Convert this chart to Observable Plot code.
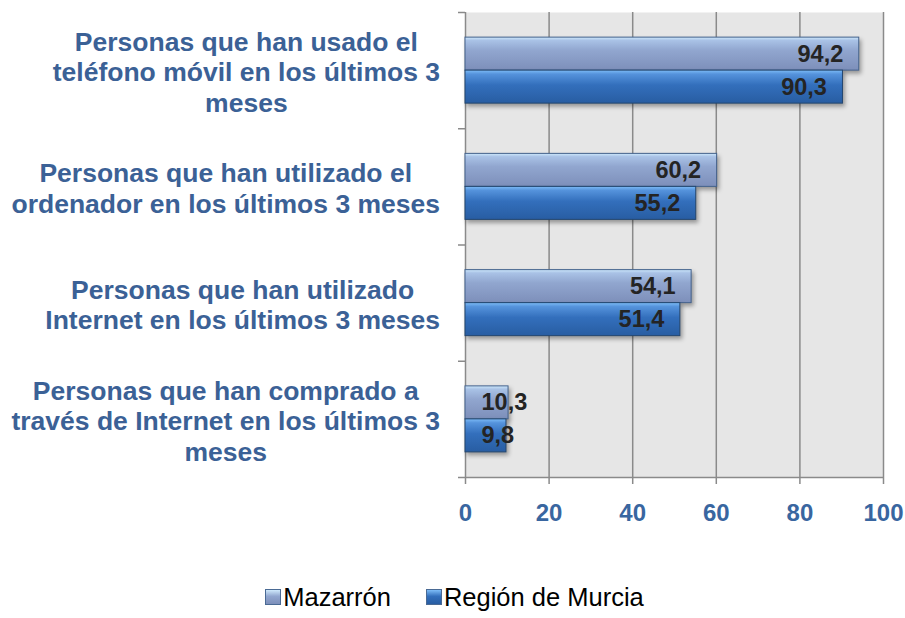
<!DOCTYPE html>
<html><head><meta charset="utf-8">
<script src="https://cdn.jsdelivr.net/npm/d3@7"></script>
<script src="https://cdn.jsdelivr.net/npm/@observablehq/plot@0.6"></script>
<style>
body{margin:0;background:#fff;font-family:"Liberation Sans",Arial,sans-serif;}
#chart{position:relative;width:905px;height:618px;overflow:hidden;}
g[aria-label="bar"] rect{filter:drop-shadow(2px 3px 2px rgba(0,0,0,0.35));}
#legend{position:absolute;top:582px;left:0;width:905px;display:flex;justify-content:center;align-items:center;font-size:25.5px;color:#000;padding-left:4px;box-sizing:border-box;line-height:30px;}
#legend .item{display:flex;align-items:center;margin:0 17.5px;}
#legend .sw{display:inline-block;width:14px;height:14px;margin-right:2px;border:1px solid #4a6a94;}
</style></head>
<body>
<div id="chart"><div id="legend"></div></div>
<script>
const categories = [
  "Personas que han usado el teléfono móvil en los últimos 3 meses",
  "Personas que han utilizado el ordenador en los últimos 3 meses",
  "Personas que han utilizado Internet en los últimos 3 meses",
  "Personas que han comprado a través de Internet en los últimos 3 meses"
];
const categoryLabels = [
  "Personas que han usado el\nteléfono móvil en los últimos 3\nmeses",
  "Personas que han utilizado el\nordenador en los últimos 3 meses",
  "Personas que han utilizado\nInternet en los últimos 3 meses",
  "Personas que han comprado a\ntravés de Internet en los últimos 3\nmeses"
];
const series = ["Mazarrón", "Región de Murcia"];
const mazarron = [94.2, 60.2, 54.1, 10.3];
const murcia = [90.3, 55.2, 51.4, 9.8];
const xTicks = [0, 20, 40, 60, 80, 100];

const rowsM = categories.map((c, i) => ({cat: c, value: mazarron[i], series: series[0]}));
const rowsR = categories.map((c, i) => ({cat: c, value: murcia[i], series: series[1]}));
const labelRows = categories.map((c, i) => ({cat: c, label: categoryLabels[i]}));
const fmt = v => v.toFixed(1).replace(".", ",");

const W = 905, H = 560, mT = 12, mB = 83, mL = 465, mR = 22;
const band = (H - mT - mB) / categories.length;
const half = band / 2;
const barH = 33;
const labelGap = 25; // gap between the widest label line and the axis

const gridColor = "#8a8a8a";
const catColor = "#3b6196";
const tickColor = "#3966a0";
const valFont = {fontFamily: "'Liberation Sans', Arial, sans-serif", fontWeight: "bold", fontSize: 23.5, fill: "#242424"};

const chart = Plot.plot({
  width: W, height: H,
  marginTop: mT, marginBottom: mB, marginLeft: mL, marginRight: mR,
  style: {background: "transparent", overflow: "visible"},
  x: {domain: [0, 100], axis: null},
  y: {type: "band", domain: categories, padding: 0, round: false, axis: null},
  marks: [
    Plot.frame({fill: "#e6e6e6", stroke: "none"}),
    Plot.ruleX(xTicks.filter(t => t > 0), {stroke: gridColor, strokeWidth: 1.5}),
    Plot.ruleX([0], {stroke: gridColor, strokeWidth: 1.5}),
    // x tick marks
    Plot.ruleX(xTicks, {stroke: gridColor, strokeWidth: 1.5, insetTop: H - mT - mB, insetBottom: -7}),
    // y tick marks at band boundaries
    Plot.ruleY(categories, {y: d => d, x1: 0, x2: 0, insetLeft: -7, dy: -half, stroke: gridColor, strokeWidth: 1.5}),
    // bottom axis line
    Plot.ruleY(categories.slice(-1), {y: d => d, insetLeft: -7, dy: half, stroke: gridColor, strokeWidth: 1.5}),
    // bars
    Plot.barX(rowsM, {x: "value", y: "cat", fill: "url(#gradM)", stroke: "#44628c", strokeWidth: 1, insetTop: half - barH, insetBottom: half}),
    Plot.barX(rowsR, {x: "value", y: "cat", fill: "url(#gradR)", stroke: "#23466f", strokeWidth: 1, insetTop: half, insetBottom: half - barH}),
    // value labels
    Plot.text(rowsM, {filter: d => d.value >= 20, x: "value", y: "cat", text: d => fmt(d.value), textAnchor: "end", dx: -16, dy: -barH / 2, ...valFont}),
    Plot.text(rowsR, {filter: d => d.value >= 20, x: "value", y: "cat", text: d => fmt(d.value), textAnchor: "end", dx: -16, dy: barH / 2, ...valFont}),
    Plot.text(rowsM, {filter: d => d.value < 20, x: 0, y: "cat", text: d => fmt(d.value), textAnchor: "start", dx: 16, dy: -barH / 2, ...valFont}),
    Plot.text(rowsR, {filter: d => d.value < 20, x: 0, y: "cat", text: d => fmt(d.value), textAnchor: "start", dx: 16, dy: barH / 2, ...valFont}),
    // category labels (lines centred; block right-aligned afterwards)
    Plot.text(labelRows, {y: "cat", text: "label", frameAnchor: "left", dx: -220, dy: 1, textAnchor: "middle", lineHeight: 1.15,
      fontFamily: "'Liberation Sans', Arial, sans-serif", fontWeight: "bold", fontSize: 26.5, fill: catColor}),
    // x tick labels
    Plot.text(xTicks, {x: d => d, frameAnchor: "bottom", dy: 43, text: d => String(d), textAnchor: "middle",
      fontFamily: "'Liberation Sans', Arial, sans-serif", fontWeight: "bold", fontSize: 24, fill: tickColor})
  ]
});

const defs = document.createElementNS("http://www.w3.org/2000/svg", "defs");
defs.innerHTML = `
<linearGradient id="gradM" x1="0" y1="0" x2="0" y2="1">
  <stop offset="0" stop-color="#cfe9fc"/>
  <stop offset="0.1" stop-color="#a9c2e6"/>
  <stop offset="0.4" stop-color="#91a6cf"/>
  <stop offset="1" stop-color="#7d8fba"/>
</linearGradient>
<linearGradient id="gradR" x1="0" y1="0" x2="0" y2="1">
  <stop offset="0" stop-color="#7dbcf7"/>
  <stop offset="0.12" stop-color="#5593dc"/>
  <stop offset="0.45" stop-color="#336fbc"/>
  <stop offset="1" stop-color="#285da2"/>
</linearGradient>`;
chart.insertBefore(defs, chart.firstChild);
const container = document.getElementById("chart");
container.insertBefore(chart, container.firstChild);

// Align each category label block so that its widest line ends labelGap px left of the axis
const svgBox = chart.getBoundingClientRect();
Array.from(chart.querySelectorAll("text"))
  .filter(t => t.textContent.startsWith("Personas"))
  .forEach(t => {
    const r = t.getBoundingClientRect();
    const shift = (mL - labelGap) - (r.right - svgBox.left);
    const tr = t.getAttribute("transform") || "";
    t.setAttribute("transform", `${tr} translate(${shift},0)`);
  });

const legend = document.getElementById("legend");
const swatchBg = [
  "linear-gradient(to bottom, #cfe9fc, #91a6cf 45%, #7d8fba)",
  "linear-gradient(to bottom, #7dbcf7, #336fbc 45%, #285da2)"
];
series.forEach((s, i) => {
  const item = document.createElement("span");
  item.className = "item";
  const sw = document.createElement("span");
  sw.className = "sw";
  sw.style.background = swatchBg[i];
  item.appendChild(sw);
  item.appendChild(document.createTextNode(s));
  legend.appendChild(item);
});
</script>
</body></html>
